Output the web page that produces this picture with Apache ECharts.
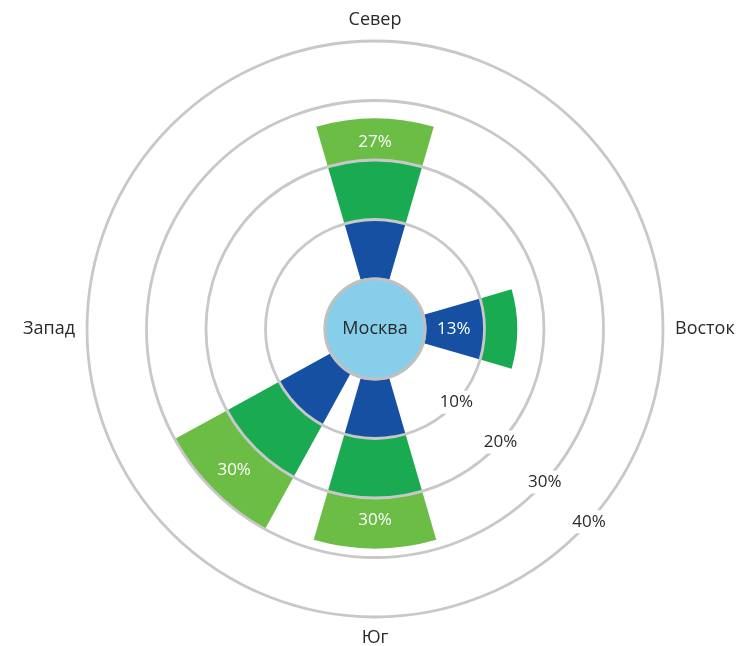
<!DOCTYPE html>
<html>
<head>
<meta charset="utf-8">
<script src="https://cdn.jsdelivr.net/npm/echarts@6/dist/echarts.min.js"></script>
<style>
html,body{margin:0;padding:0;background:#fff;}
#chart{width:740px;height:646px;}
</style>
</head>
<body>
<div id="chart"></div>
<script>
// Directions (8 sectors, only the 4 main ones are labelled)
const directions = ['Север', 'Северо-восток', 'Восток', 'Юго-восток', 'Юг', 'Юго-запад', 'Запад', 'Северо-запад'];
const shownDirections = ['Север', 'Восток', 'Юг', 'Запад'];
// Stacked segment values (%)
const blueValues = [10, 0, 10, 0, 10, 10, 0, 0];
const darkGreenValues = [10, 0, 5.5, 0, 10, 10, 0, 0];
const lightGreenValues = [7, 0, 0, 0, 8.5, 10, 0, 0];
// Labels written on the bars
const blueLabels = ['', '', '13%', '', '', '', '', ''];
const lightGreenLabels = ['27%', '', '', '', '30%', '30%', '', ''];
// Radius ticks
const radiusTicks = [0, 10, 20, 30, 40];
const centerName = 'Москва';

const FONT = 'Open Sans';
const CENTER = [375, 329];

const chart = echarts.init(document.getElementById('chart'), null, {renderer: 'canvas'});

const barLabel = (arr) => ({
  show: true,
  position: 'inside',
  color: '#ffffff',
  fontFamily: FONT,
  fontSize: 17,
  formatter: (p) => arr[p.dataIndex] || ''
});

const option = {
  backgroundColor: '#ffffff',
  animation: false,
  polar: [
    {center: CENTER, radius: [50, 288]},
    {center: CENTER, radius: [50, 288]}
  ],
  angleAxis: [
    {
      polarIndex: 0,
      type: 'category',
      data: directions,
      startAngle: 112.5,
      clockwise: true,
      boundaryGap: true,
      axisLine: {show: false},
      axisTick: {show: false},
      splitLine: {show: false},
      axisLabel: {
        show: true,
        margin: 12,
        fontFamily: FONT,
        fontSize: 18,
        color: '#2a2a2a',
        formatter: (v) => shownDirections.indexOf(v) >= 0 ? v : ''
      }
    },
    {
      polarIndex: 1,
      type: 'value',
      startAngle: -42,
      min: 0, max: 360,
      show: false
    }
  ],
  radiusAxis: [
    {
      polarIndex: 0,
      type: 'value',
      min: radiusTicks[0],
      max: radiusTicks[radiusTicks.length - 1],
      interval: 10,
      z: 5,
      axisLine: {show: false},
      axisTick: {show: false},
      axisLabel: {show: false},
      splitLine: {show: true, lineStyle: {color: '#c8c8c8', width: 2.8}}
    },
    {
      polarIndex: 1,
      type: 'value',
      min: radiusTicks[0],
      max: radiusTicks[radiusTicks.length - 1],
      interval: 10,
      z: 6,
      axisLine: {show: false},
      axisTick: {show: false},
      splitLine: {show: false},
      axisLabel: {
        show: true,
        showMinLabel: false,
        margin: 0,
        rotate: 0,
        align: 'center',
        verticalAlign: 'middle',
        backgroundColor: '#ffffff',
        padding: [3, 4],
        fontFamily: FONT,
        fontSize: 17,
        color: '#2a2a2a',
        formatter: (v) => v === 0 ? '' : v + '%'
      }
    }
  ],
  series: [
    {
      type: 'bar', coordinateSystem: 'polar', polarIndex: 0, stack: 'wind',
      data: blueValues, barCategoryGap: '28%',
      itemStyle: {color: '#1550a2'},
      label: barLabel(blueLabels),
      silent: true
    },
    {
      type: 'bar', coordinateSystem: 'polar', polarIndex: 0, stack: 'wind',
      data: darkGreenValues, barCategoryGap: '28%',
      itemStyle: {color: '#1aab52'},
      silent: true
    },
    {
      type: 'bar', coordinateSystem: 'polar', polarIndex: 0, stack: 'wind',
      data: lightGreenValues, barCategoryGap: '28%',
      itemStyle: {color: '#6bbd45'},
      label: barLabel(lightGreenLabels),
      silent: true
    },
    {
      type: 'pie',
      center: CENTER,
      radius: [0, 50],
      z: 10,
      silent: true,
      data: [{value: 1, name: centerName}],
      itemStyle: {color: '#87ceeb', borderColor: '#c0c0c0', borderWidth: 3},
      label: {show: true, position: 'center', formatter: '{b}', fontFamily: FONT, fontSize: 18, color: '#2a2a2a'},
      labelLine: {show: false},
      emphasis: {disabled: true}
    }
  ]
};

chart.setOption(option);
</script>
</body>
</html>
